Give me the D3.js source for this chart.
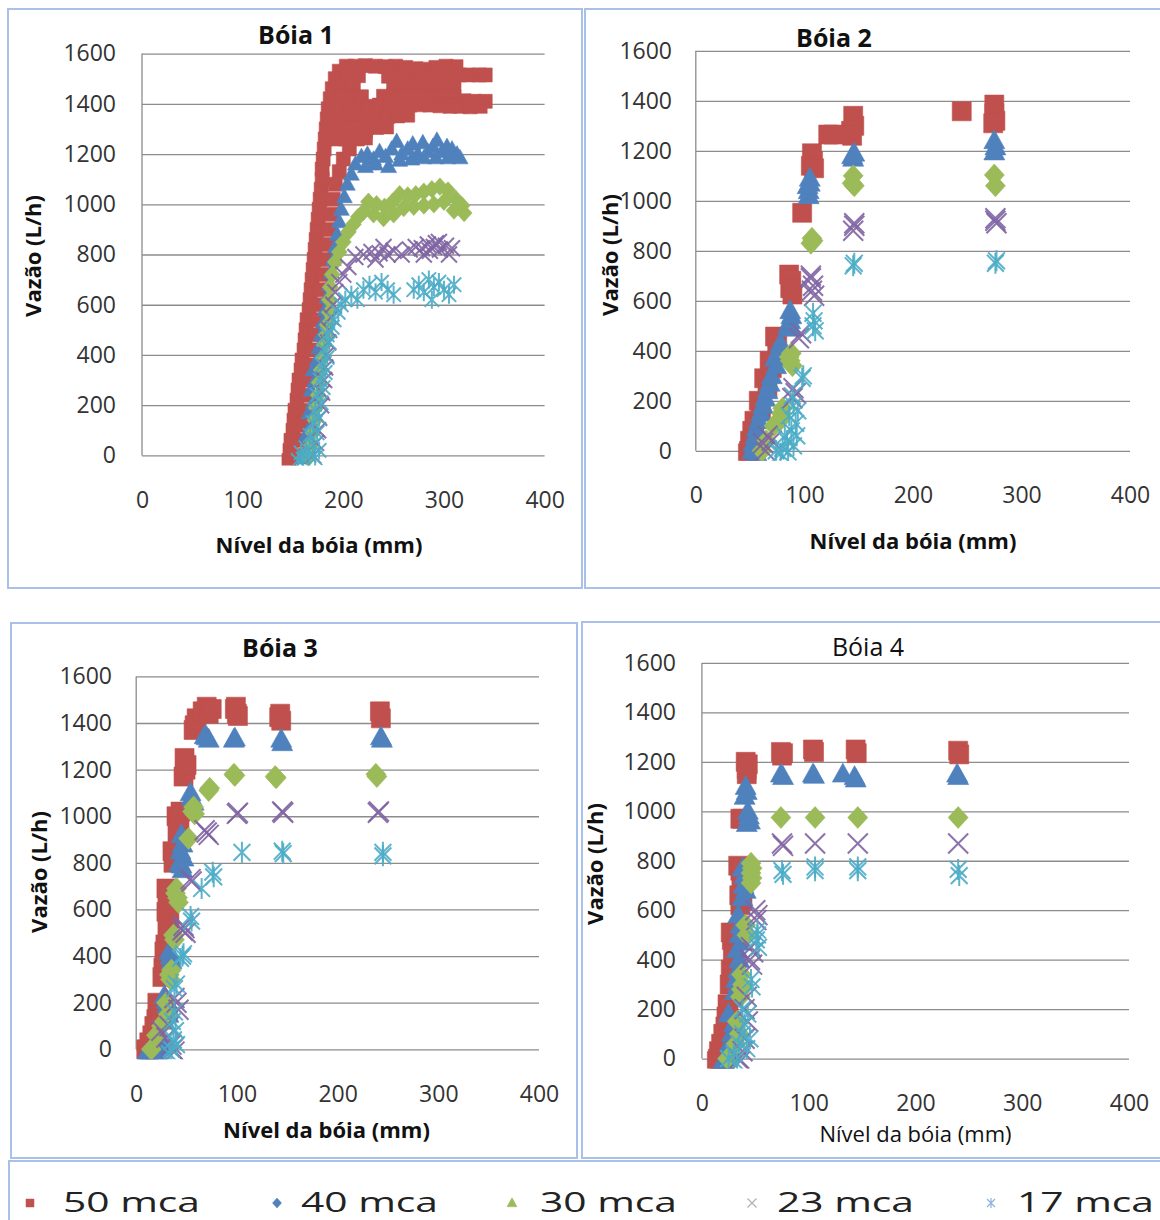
<!DOCTYPE html>
<html><head><meta charset="utf-8">
<script src="https://cdn.jsdelivr.net/npm/d3@7"></script>
<style>
body{margin:0;background:#fff;}
svg{display:block;font-family:"Open Sans",sans-serif;}
</style>
</head><body>
<svg id="chart" width="1160" height="1220"></svg>
<script>
// ---------------- DATA ----------------
const seriesNames = ["50 mca","40 mca","30 mca","23 mca","17 mca"];
const panelTitles = ["Bóia 1","Bóia 2","Bóia 3","Bóia 4"];
const xTicks = [0,100,200,300,400];
const yTicks = [0,200,400,600,800,1000,1200,1400,1600];
const xTitle = "Nível da bóia (mm)";
const yTitle = "Vazão (L/h)";

// Bóia 1
const b1_50 = [[146,-20],[147,20],[148,60],[150,100],[151,140],[152,180],[154,220],[155,260],[156,300],[158,340],[159,380],[161,420],[162,460],[163,500],[164,540],[166,580],[167,620],[168,660],[169,700],[170,740],[171,780],[172,820],[173,860],[174,900],[175,940],[176,980],[177,1020],[178,1060],[179,1100],[179,1140],[180,1180],[181,1220],[182,1260],[183,1300],[184,1340],[185,1380],[187,1420],[189,1460],[192,1500],[196,1530],[203,1550],
[155,0],[157,60],[160,120],[162,180],[164,240],[166,300],[168,360],[170,420],[172,480],[174,540],[176,600],[178,660],[180,720],[182,780],[184,840],[186,900],[188,960],[190,1020],[192,1080],[196,1130],[200,1180],[206,1220],[214,1260],[222,1290],
[212,1550],[222,1552],[232,1550],[242,1548],[252,1550],[262,1545],[272,1540],[282,1538],[292,1545],[302,1550],[312,1548],
[205,1510],[215,1512],[245,1510],[255,1508],[265,1512],[275,1510],[285,1505],[295,1510],[305,1512],[315,1515],[325,1515],[335,1515],[341,1515],
[200,1470],[210,1470],[250,1470],[260,1468],[270,1472],[280,1470],[290,1468],[300,1470],[310,1468],
[198,1430],[208,1430],[218,1428],[240,1430],[250,1432],[260,1430],[270,1428],[280,1430],[290,1432],[300,1430],[310,1428],[320,1412],[330,1410],[341,1410],
[196,1395],[206,1395],[216,1392],[226,1390],[236,1395],[246,1393],[256,1392],[266,1395],[276,1396],[286,1395],[296,1392],[306,1390],[316,1390],[326,1388],[336,1390],
[194,1350],[204,1350],[214,1348],[224,1350],[234,1352],[244,1350],[254,1352],[264,1355],
[193,1305],[203,1305],[213,1302],[223,1305],[233,1306],[243,1308],
[192,1260],[202,1260],[212,1262],[222,1264]];
const b1_40 = [[160,-10],[165,30],[163,80],[168,120],[166,170],[170,210],[168,260],[172,300],[170,340],[174,380],[176,430],[178,480],[180,530],[182,580],[184,630],[186,680],[188,730],[190,780],[192,830],[194,880],[196,930],[198,980],[201,1030],[204,1080],[208,1120],[212,1160],
[218,1190],[224,1200],[230,1180],[236,1210],[242,1190],[248,1220],[253,1250],[258,1200],[264,1220],[269,1240],[274,1200],[279,1245],[284,1210],[289,1230],[293,1255],[298,1210],[303,1230],[308,1220],[313,1200],[316,1185],
[222,1150],[232,1160],[245,1150],[256,1175],[268,1180],[280,1185],[292,1185],[304,1185]];
const b1_30 = [[165,-10],[168,40],[170,90],[172,140],[173,190],[175,240],[176,290],[178,340],[180,390],[181,440],[183,480],[184,520],[186,570],[186,620],[187,670],[189,720],[192,770],[196,810],[200,850],[205,890],[210,920],[215,950],[220,970],
[225,1010],[233,1000],[241,990],[249,1010],[256,1040],[264,1035],[272,1040],[280,1050],[288,1060],[296,1070],[304,1055],[312,1020],[318,995],[320,965],
[230,960],[240,945],[250,960],[260,985],[270,990],[280,995],[290,1000],[300,1010],[310,975]];
const b1_23 = [[170,0],[173,50],[175,100],[176,150],[178,200],[179,250],[181,300],[182,350],[183,400],[185,450],[186,500],[188,550],[190,600],[192,650],[196,690],[200,720],[205,750],
[212,790],[220,800],[228,810],[236,805],[244,800],[250,815],[258,800],[266,820],[272,830],[278,825],[284,840],[290,830],[296,820],[302,835],[308,825],[232,780],[240,830],[280,800],[295,850],[305,800],[286,815],[292,845]];
const b1_17 = [[160,-15],[166,0],[172,-10],[163,30],[170,40],[176,20],[167,80],[174,90],[170,130],[176,150],[172,180],[178,210],[174,240],[180,270],[177,300],[182,330],[179,360],[184,390],[181,420],[186,450],[184,480],[189,510],[191,540],[195,570],[198,600],[202,620],[155,-20],[158,10],
[208,640],[214,620],[220,660],[226,680],[232,650],[238,690],[244,660],[250,640],[270,660],[275,680],[280,650],[285,700],[288,620],[290,670],[295,690],[300,660],[305,640],[310,680]];

// Bóia 2
const b2_50 = [[49,0],[48,-10],[52,20],[50,40],[52,80],[54,120],[60,160],[58,200],[66,250],[63,290],[70,330],[68,360],[75,420],[73,457],[86,705],[88,680],[87,650],[89,625],[98,952],[107,1190],[108,1160],[106,1140],[109,1130],[122,1265],[127,1265],[145,1340],[146,1300],[143,1280],[144,1260],[245,1358],[275,1385],[275,1350],[276,1320],[274,1310]];
const b2_40 = [[56,-10],[52,0],[53,30],[55,60],[56,90],[58,120],[60,150],[62,180],[64,210],[66,240],[68,270],[70,300],[74,340],[73,370],[76,400],[78,430],[85,500],[88,490],[87,520],[88,540],[87,560],[104,1020],[104,1040],[103,1060],[105,1070],[105,1090],[145,1170],[144,1180],[146,1190],[275,1195],[276,1215],[275,1240]];
const b2_30 = [[61,0],[65,40],[72,100],[77,119],[79,150],[78,130],[80,170],[88,390],[87,360],[89,340],[86,375],[107,850],[106,830],[108,840],[145,1100],[144,1070],[146,1060],[275,1103],[276,1060]];
const b2_23 = [[62,30],[66,60],[70,40],[64,0],[90,250],[92,230],[89,210],[95,450],[97,470],[106,690],[108,660],[107,640],[109,620],[106,700],[146,900],[145,880],[146,910],[276,930],[277,910],[276,920]];
const b2_17 = [[74,0],[78,-10],[80,10],[85,-5],[90,20],[84,40],[82,60],[93,60],[88,80],[92,110],[86,140],[94,160],[90,180],[89,220],[99,300],[98,290],[108,550],[109,520],[110,480],[108,500],[146,750],[145,740],[277,760],[276,750]];

// Bóia 3
const b3_50 = [[10,0],[12,-20],[13,30],[16,60],[18,100],[20,130],[21,200],[23,180],[24,150],[27,350],[28,330],[26,310],[29,450],[28,420],[30,690],[31,650],[32,620],[30,590],[33,560],[31,530],[36,850],[38,820],[37,800],[40,1000],[42,980],[43,950],[41,920],[44,1020],[48,1250],[49,1200],[47,1170],[50,1220],[58,1390],[57,1370],[60,1420],[66,1450],[72,1440],[70,1470],[75,1460],[98,1460],[100,1440],[99,1470],[101,1430],[143,1440],[144,1410],[142,1425],[242,1450],[243,1420]];
const b3_40 = [[10,-20],[15,-15],[20,-10],[25,10],[22,60],[28,120],[32,150],[28,230],[30,210],[31,190],[33,420],[34,400],[35,380],[45,920],[46,880],[44,850],[47,820],[45,790],[43,800],[46,770],[55,1080],[57,1060],[54,1100],[70,1340],[72,1330],[68,1345],[98,1335],[97,1330],[144,1330],[145,1315],[243,1340],[244,1330]];
const b3_30 = [[15,0],[20,60],[25,100],[28,120],[30,200],[32,150],[33,320],[34,300],[35,340],[37,490],[38,470],[40,690],[41,650],[39,670],[42,630],[52,905],[57,1040],[58,1010],[56,1020],[72,1110],[73,1120],[97,1180],[98,1175],[138,1170],[139,1165],[238,1180],[239,1170]];
const b3_23 = [[30,50],[35,20],[38,-10],[25,80],[33,100],[36,0],[38,220],[40,200],[42,170],[47,530],[48,520],[46,510],[49,500],[54,730],[55,720],[70,930],[72,920],[68,940],[100,1010],[101,1015],[145,1020],[146,1015],[240,1015],[241,1020]];
const b3_17 = [[35,0],[37,40],[39,80],[36,120],[38,160],[33,-20],[40,20],[40,280],[38,260],[46,400],[47,410],[44,390],[54,570],[55,550],[65,690],[76,760],[77,740],[105,845],[145,850],[146,840],[245,845],[245,830]];

// Bóia 4
const b4_50 = [[14,-10],[15,0],[17,-20],[16,30],[18,60],[20,100],[22,130],[24,220],[25,200],[23,170],[26,300],[27,360],[27,510],[28,480],[29,420],[34,780],[36,760],[37,720],[35,660],[38,640],[36,620],[36,970],[38,970],[41,1200],[42,1170],[42,1150],[43,1190],[74,1240],[75,1225],[76,1235],[104,1250],[105,1240],[144,1250],[145,1235],[240,1245],[241,1230]];
const b4_40 = [[20,-10],[22,-20],[24,20],[26,60],[28,100],[30,140],[25,180],[31,270],[34,300],[32,320],[34,360],[35,400],[33,440],[37,470],[35,500],[36,540],[34,580],[38,650],[41,680],[39,700],[40,740],[38,770],[43,1000],[44,980],[45,960],[42,950],[41,1100],[42,1080],[40,1060],[74,1150],[76,1140],[104,1150],[105,1145],[132,1150],[143,1140],[144,1130],[239,1150],[240,1140]];
const b4_30 = [[24,0],[28,10],[32,60],[35,100],[33,150],[37,340],[38,300],[37,280],[36,250],[41,540],[42,500],[46,790],[47,770],[46,750],[47,730],[46,710],[74,975],[106,975],[146,975],[240,975]];
const b4_23 = [[35,0],[38,30],[40,80],[36,-10],[42,250],[40,200],[43,150],[46,450],[48,430],[45,400],[47,380],[50,600],[52,580],[51,560],[75,870],[76,860],[106,870],[146,870],[240,870]];
const b4_17 = [[25,0],[30,20],[35,60],[38,100],[40,140],[33,-20],[42,40],[45,80],[38,200],[43,180],[46,320],[47,290],[52,520],[51,480],[53,450],[52,500],[75,760],[76,745],[106,775],[106,760],[146,775],[146,760],[240,765],[241,740]];

// ---------------- STYLE / LAYOUT ----------------
const colors = ["#c0504d","#4f81bd","#9bbb59","#8064a2","#4bacc6"];
const shapes = ["square","triangle","diamond","x","star"];
const panelData = [
  [b1_50,b1_40,b1_30,b1_23,b1_17],
  [b2_50,b2_40,b2_30,b2_23,b2_17],
  [b3_50,b3_40,b3_30,b3_23,b3_17],
  [b4_50,b4_40,b4_30,b4_23,b4_17]
];
const layouts = [
  {frame:[8,9,574,579], x0:142, x1:544.6, yBase:455.4, yTop:53.6, tickRight:116, xLabY:499, titleX:296, titleY:44, titleW:"bold",
   xtX:319, xtY:553, xtW:"bold", ytX:41, ytY:256},
  {frame:[585,9,590,579], x0:695.8, x1:1130, yBase:450.8, yTop:50.8, tickRight:672, xLabY:494, titleX:834, titleY:46.5, titleW:"bold",
   xtX:913, xtY:549, xtW:"bold", ytX:618, ytY:255},
  {frame:[11,623,566,535], x0:136.2, x1:539, yBase:1049.3, yTop:676.4, tickRight:112, xLabY:1093, titleX:280, titleY:657, titleW:"bold",
   xtX:326.5, xtY:1138, xtW:"bold", ytX:47, ytY:872},
  {frame:[582,622,590,536], x0:701.9, x1:1129, yBase:1058.6, yTop:662.9, tickRight:676, xLabY:1102, titleX:868, titleY:655.5, titleW:"normal",
   xtX:915.5, xtY:1142, xtW:"normal", ytX:603, ytY:864}
];
const sizeSmall = {square:7,triangle:8,diamond:8,x:8,star:9};
const sizeLarge = {square:9.5,triangle:10.5,diamond:10,x:10,star:10.5};

function markerPath(shape, r) {
  switch (shape) {
    case "square": return `M${-r},${-r}h${2*r}v${2*r}h${-2*r}Z`;
    case "triangle": return `M0,${-r*1.05}L${r},${r*0.75}L${-r},${r*0.75}Z`;
    case "diamond": return `M0,${-r*1.1}L${r},0L0,${r*1.1}L${-r},0Z`;
    case "x": return `M${-r},${-r}L${r},${r}M${r},${-r}L${-r},${r}`;
    case "star": { const a = r*0.8; return `M${-a},${-a}L${a},${a}M${a},${-a}L${-a},${a}M0,${-r}L0,${r}`; }
  }
}

const svg = d3.select("#chart");
svg.append("rect").attr("width",1160).attr("height",1220).attr("fill","#fff");
const defs = svg.append("defs");
const borderColor = "#a9c1e8";

layouts.forEach((L, pi) => {
  const g = svg.append("g");
  g.append("rect").attr("x",L.frame[0]).attr("y",L.frame[1]).attr("width",L.frame[2]).attr("height",L.frame[3])
    .attr("fill","#fff").attr("stroke",borderColor).attr("stroke-width",2);

  const x = d3.scaleLinear().domain([0,400]).range([L.x0,L.x1]);
  const y = d3.scaleLinear().domain([0,1600]).range([L.yBase,L.yTop]);

  const gridAxis = d3.axisLeft(y).tickValues(yTicks).tickSize(-(L.x1-L.x0)).tickFormat("");
  const gg = g.append("g").attr("transform",`translate(${L.x0},0)`).call(gridAxis);
  gg.select(".domain").remove();
  gg.selectAll(".tick line").attr("stroke","#8c8c8c").attr("stroke-width",1.3);
  g.append("line").attr("x1",L.x0).attr("x2",L.x0).attr("y1",L.yTop).attr("y2",L.yBase)
    .attr("stroke","#8c8c8c").attr("stroke-width",1.3);

  const ya = d3.axisLeft(y).tickValues(yTicks).tickSize(0).tickPadding(0).tickFormat(d3.format("d"));
  const yg = g.append("g").attr("transform",`translate(${L.tickRight},0)`).call(ya);
  yg.select(".domain").remove();
  yg.selectAll("text").attr("font-family","'Open Sans',sans-serif").attr("font-size",23).attr("fill","#333");

  const xa = d3.axisBottom(x).tickValues(xTicks).tickSize(0).tickPadding(0).tickFormat(d3.format("d"));
  const xg = g.append("g").attr("transform",`translate(0,${L.xLabY-8})`).call(xa);
  xg.select(".domain").remove();
  xg.selectAll("text").attr("dy","0").attr("y",8).attr("dominant-baseline","central")
    .attr("font-family","'Open Sans',sans-serif").attr("font-size",23).attr("fill","#333");

  const cid = "clip"+pi;
  defs.append("clipPath").attr("id",cid).append("rect")
    .attr("x",L.x0-20).attr("y",L.yTop-30).attr("width",L.x1-L.x0+40).attr("height",L.yBase-L.yTop+40);

  const pg = g.append("g").attr("clip-path",`url(#${cid})`);
  panelData[pi].forEach((series, si) => {
    const shape = shapes[si];
    const r = (pi===0 ? sizeSmall : sizeLarge)[shape];
    const filled = (shape==="square"||shape==="triangle"||shape==="diamond");
    pg.append("g").selectAll("path").data(series).join("path")
      .attr("transform",d=>`translate(${x(d[0])},${y(d[1])})`)
      .attr("d",markerPath(shape,r))
      .attr("fill",filled?colors[si]:"none")
      .attr("stroke",colors[si])
      .attr("stroke-width",filled?0.6:2)
      .attr("stroke-opacity",filled?1:0.9);
  });

  g.append("text").attr("x",L.titleX).attr("y",L.titleY).attr("text-anchor","middle")
    .attr("font-size",25).attr("font-weight",L.titleW).attr("fill","#111").text(panelTitles[pi]);
  g.append("text").attr("x",L.xtX).attr("y",L.xtY).attr("text-anchor","middle")
    .attr("font-size",22).attr("font-weight",L.xtW).attr("fill","#111").text(xTitle);
  g.append("text").attr("transform",`translate(${L.ytX},${L.ytY}) rotate(-90)`).attr("text-anchor","middle")
    .attr("font-size",22).attr("font-weight","bold").attr("fill","#111").text(yTitle);
});

// legend
const lg = svg.append("g");
lg.append("rect").attr("x",9).attr("y",1161).attr("width",1160).attr("height",70)
  .attr("fill","#fff").attr("stroke",borderColor).attr("stroke-width",2);
const legMarkX = [30,277,512,752,991];
const legTextX = [63,301,540,777,1017];
const legColors = ["#c0504d","#4f81bd","#9bbb59","#b0b0b0","#8db3e2"];
const legShapes = ["square","diamond","triangle","x","star"];
seriesNames.forEach((name,i)=>{
  const shape = legShapes[i];
  const filled = shape!=="x" && shape!=="star";
  const r = {square:4,diamond:4.5,triangle:5,x:4.5,star:5}[shape];
  lg.append("path").attr("transform",`translate(${legMarkX[i]},1203)`).attr("d",markerPath(shape,r))
    .attr("fill",filled?legColors[i]:"none").attr("stroke",legColors[i]).attr("stroke-width",filled?0.5:1.2);
  lg.append("text").attr("x",legTextX[i]).attr("y",1212).attr("font-size",28).attr("fill","#222")
    .attr("textLength",137).attr("lengthAdjust","spacingAndGlyphs").text(name);
});
</script>
</body></html>
